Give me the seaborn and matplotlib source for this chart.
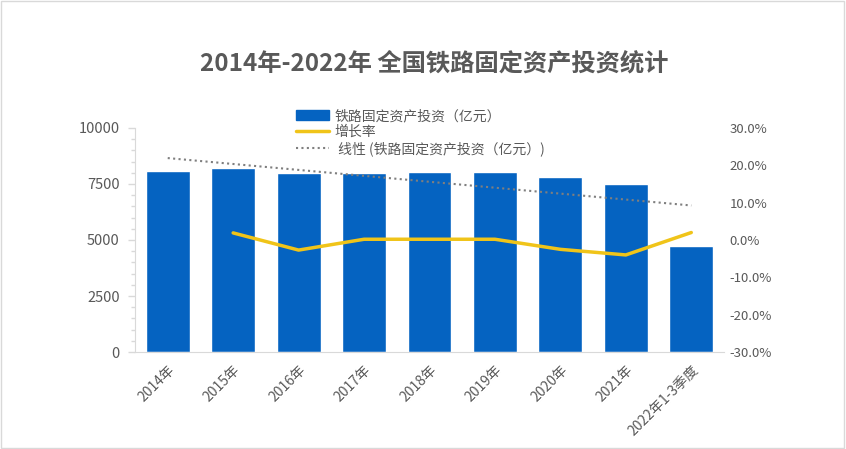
import numpy as np
import pandas as pd
import matplotlib
matplotlib.use("Agg")
import matplotlib.pyplot as plt
import seaborn as sns
from matplotlib.lines import Line2D
from matplotlib.patches import Patch, Rectangle
from matplotlib.ticker import MultipleLocator, FuncFormatter

# 数据
years = ['2014年', '2015年', '2016年', '2017年', '2018年', '2019年', '2020年', '2021年', '2022年1-3季度']
invest = [8080, 8214, 7991, 8004, 8036, 8029, 7812, 7500, 4730]
growth = [np.nan, 1.9, -2.7, 0.2, 0.2, 0.2, -2.5, -4.0, 2.0]

df = pd.DataFrame({'year': years, 'invest': invest, 'growth': growth})

sns.set_style("white")
plt.rcParams['font.family'] = ['Noto Sans CJK SC', 'DejaVu Sans']

txt = '#595959'
bar_c = '#0563C1'
line_c = '#F0C419'
grid_c = '#D9D9D9'

fig = plt.figure(figsize=(8.46, 4.49), dpi=100)
ax = fig.add_axes([135 / 846, 1 - 352 / 449, (724 - 135) / 846, (352 - 128) / 449])

sns.barplot(data=df, x='year', y='invest', color=bar_c, width=0.67, saturation=1, ax=ax)

# 线性趋势线
xs = np.arange(len(years))
sns.regplot(x=xs, y=np.array(invest, dtype=float), scatter=False, ci=None, ax=ax,
            line_kws=dict(color='#7F7F7F', linestyle=(0, (1, 1.6)), linewidth=1.5))

ax.set_xlim(-0.5, len(years) - 0.5)
ax.set_ylim(0, 10000)
ax.yaxis.set_major_locator(MultipleLocator(2500))
ax.yaxis.set_minor_locator(MultipleLocator(500))
ax.set_xlabel('')
ax.set_ylabel('')
ax.set_xticks(xs)
ax.set_xticklabels(years, rotation=45, ha='right', rotation_mode='anchor', fontsize=10, color=txt)
ax.set_xticks(np.arange(-0.5, len(years)), minor=True)
ax.tick_params(axis='x', which='major', length=0, pad=8)
ax.tick_params(axis='x', which='minor', length=5, color=grid_c, width=1)
ax.tick_params(axis='y', which='both', left=True, direction='out', color=grid_c, width=1)
ax.tick_params(axis='y', which='major', length=5, labelsize=10.5, labelcolor=txt, pad=6)
ax.tick_params(axis='y', which='minor', length=3)

for s in ['top', 'right']:
    ax.spines[s].set_visible(False)
for s in ['left', 'bottom']:
    ax.spines[s].set_color(grid_c)

# 增长率
ax2 = ax.twinx()
sns.lineplot(x=xs, y=df['growth'], color=line_c, linewidth=2.5, ax=ax2)
ax2.set_ylim(-30, 30)
ax2.yaxis.set_major_locator(MultipleLocator(10))
ax2.yaxis.set_major_formatter(FuncFormatter(lambda v, p: f'{v:.1f}%'))
ax2.tick_params(axis='y', length=0, labelsize=9.5, labelcolor=txt, pad=4)
ax2.set_ylabel('')
for s in ax2.spines.values():
    s.set_visible(False)
ax2.set_xlim(-0.5, len(years) - 0.5)

handles = [Patch(facecolor=bar_c, edgecolor=bar_c),
           Line2D([0], [0], color=line_c, linewidth=2.5),
           Line2D([0], [0], color='#7F7F7F', linestyle=(0, (1, 1.6)), linewidth=1.5)]
labels = ['铁路固定资产投资（亿元）', '增长率', ' 线性 (铁路固定资产投资（亿元）)']
fig.legend(handles, labels, loc='upper left', bbox_to_anchor=(296 / 846, 1 - 109 / 449),
           frameon=False, fontsize=10, labelcolor=txt, handlelength=2.4,
           handletextpad=0.4, labelspacing=0.15, borderaxespad=0, borderpad=0)

fig.text(434 / 846, 1 - 63 / 449, '2014年-2022年 全国铁路固定资产投资统计', ha='center', va='center',
         fontsize=17.5, fontweight='bold', color=txt)

fig.patches.append(Rectangle((0.001, 0.002), 0.997, 0.996, transform=fig.transFigure,
                             fill=False, edgecolor=grid_c, linewidth=1))

fig.savefig('out.png', dpi=100)
